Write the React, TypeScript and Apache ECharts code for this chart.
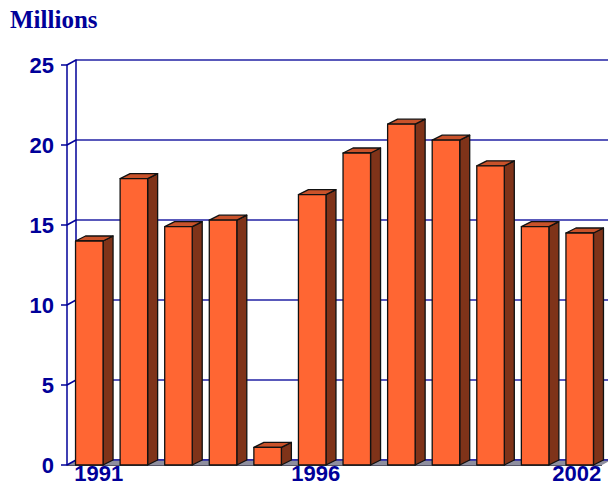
import React, { useEffect, useRef } from "react";
import * as echarts from "echarts";

// Annual totals, in millions
const years = ["1991", "1992", "1993", "1994", "1995", "1996", "1997", "1998", "1999", "2000", "2001", "2002"];
const values = [14.0, 17.9, 14.9, 15.3, 1.1, 16.9, 19.5, 21.3, 20.3, 18.7, 14.9, 14.5];
const labelledYears = ["1991", "1996", "2002"];
const yMin = 0;
const yMax = 25;
const yStep = 5;
const yTicks = [0, 5, 10, 15, 20, 25];

const NAVY = "#000099";
const GRID_BLUE = "#2222a4";
const FRONT = "#FF6633";
const SIDE = "#7F3319";
const TOP = "#C9522A";
const EDGE = "#111111";
const FLOOR = "#8e8e9e";

// depth of the back wall and of each bar
const WALL_DX = 9;
const WALL_DY = 5;
const BAR_DX = 10;
const BAR_DY = 5;

export default function App() {
  const ref = useRef<HTMLDivElement>(null);

  useEffect(() => {
    if (!ref.current) return;
    const chart = echarts.init(ref.current, null, { renderer: "svg" });

    const labelRich = {
      first: { padding: [0, 0, 0, 19] },
      mid: { padding: [0, 0, 0, 7] },
      last: { padding: [0, 6, 0, 0] },
    };

    const option: any = {
      animation: false,
      backgroundColor: "#ffffff",
      title: {
        text: "Millions",
        left: 5,
        top: 2,
        textStyle: {
          fontFamily: "Liberation Serif",
          fontWeight: "bold",
          fontSize: 25,
          color: NAVY,
        },
      },
      grid: [
        { left: 67, top: 65, width: 535, height: 400 },
        { left: 67 + WALL_DX, top: 65 - WALL_DY, width: 560, height: 400 },
      ],
      xAxis: [
        {
          type: "category",
          gridIndex: 0,
          data: years,
          z: 10,
          axisLine: { show: false },
          axisTick: { show: false },
          splitLine: { show: false },
          axisLabel: {
            interval: (idx: number, val: string) => labelledYears.includes(val),
            margin: -3,
            fontFamily: "Liberation Sans",
            fontWeight: "bold",
            fontSize: 22,
            color: NAVY,
            formatter: (val: string) => {
              const k = labelledYears.indexOf(val);
              const key = k === 0 ? "first" : k === labelledYears.length - 1 ? "last" : "mid";
              return `{${key}|${val}}`;
            },
            rich: labelRich,
          },
        },
        {
          type: "category",
          gridIndex: 1,
          data: years,
          show: false,
        },
      ],
      yAxis: [
        {
          type: "value",
          gridIndex: 0,
          min: yMin,
          max: yMax,
          interval: yStep,
          axisLine: { show: true, lineStyle: { color: NAVY, width: 1.5 } },
          axisTick: { show: true, length: 6, lineStyle: { color: NAVY, width: 1.5 } },
          splitLine: { show: false },
          axisLabel: {
            margin: 13,
            fontFamily: "Liberation Sans",
            fontWeight: "bold",
            fontSize: 22,
            color: NAVY,
          },
        },
        {
          type: "value",
          gridIndex: 1,
          min: yMin,
          max: yMax,
          interval: yStep,
          axisLine: { show: true, lineStyle: { color: NAVY, width: 1.5 } },
          axisTick: { show: false },
          axisLabel: { show: false },
          splitLine: { show: true, lineStyle: { color: GRID_BLUE, width: 1.5 } },
        },
      ],
      series: [
        {
          // floor of the box
          type: "custom",
          xAxisIndex: 0,
          yAxisIndex: 0,
          clip: false,
          z: 1,
          data: [[0, yMin]],
          renderItem: (params: any, api: any) => {
            const band = api.size([1, 0])[0];
            const p0 = api.coord([0, yMin]);
            const p1 = api.coord([years.length - 1, yMin]);
            const left = p0[0] - band / 2;
            const right = p1[0] + band / 2;
            const y = p0[1];
            return {
              type: "group",
              children: [
                {
                  type: "polygon",
                  shape: {
                    points: [
                      [left, y],
                      [right, y],
                      [right + WALL_DX, y - WALL_DY],
                      [left + WALL_DX, y - WALL_DY],
                    ],
                  },
                  style: { fill: FLOOR },
                },
                {
                  type: "line",
                  shape: { x1: left + WALL_DX, y1: y - WALL_DY, x2: right + WALL_DX + 20, y2: y - WALL_DY },
                  style: { stroke: GRID_BLUE, lineWidth: 1.5 },
                },
                {
                  type: "line",
                  shape: { x1: left, y1: y + 0.5, x2: right, y2: y + 0.5 },
                  style: { stroke: "#555566", lineWidth: 1 },
                },
              ],
            };
          },
        },
        {
          // slanted connectors from the front ticks to the back wall
          type: "custom",
          xAxisIndex: 0,
          yAxisIndex: 0,
          clip: false,
          z: 2,
          data: yTicks.map((v) => [0, v]),
          renderItem: (params: any, api: any) => {
            const band = api.size([1, 0])[0];
            const p = api.coord([0, api.value(1)]);
            const x = p[0] - band / 2;
            return {
              type: "line",
              shape: { x1: x, y1: p[1], x2: x + WALL_DX, y2: p[1] - WALL_DY },
              style: { stroke: NAVY, lineWidth: 1.5 },
            };
          },
        },
        {
          // 3D bars
          type: "custom",
          xAxisIndex: 0,
          yAxisIndex: 0,
          clip: false,
          z: 3,
          data: values.map((v, i) => [i, v]),
          renderItem: (params: any, api: any) => {
            const i = api.value(0);
            const v = api.value(1);
            const top = api.coord([i, v]);
            const base = api.coord([i, yMin]);
            const band = api.size([1, 0])[0];
            const w = band * 0.617;
            const x0 = top[0] - w / 2;
            const x1 = top[0] + w / 2;
            const yT = top[1];
            const yB = base[1];
            const edge = { stroke: EDGE, lineWidth: 1.3, lineJoin: "round" };
            return {
              type: "group",
              children: [
                {
                  type: "polygon",
                  shape: {
                    points: [
                      [x1, yT],
                      [x1 + BAR_DX, yT - BAR_DY],
                      [x1 + BAR_DX, yB - BAR_DY],
                      [x1, yB],
                    ],
                  },
                  style: { fill: SIDE, ...edge },
                },
                {
                  type: "polygon",
                  shape: {
                    points: [
                      [x0, yT],
                      [x0 + BAR_DX, yT - BAR_DY],
                      [x1 + BAR_DX, yT - BAR_DY],
                      [x1, yT],
                    ],
                  },
                  style: { fill: TOP, ...edge },
                },
                {
                  type: "rect",
                  shape: { x: x0, y: yT, width: w, height: yB - yT },
                  style: { fill: FRONT, ...edge },
                },
              ],
            };
          },
        },
      ],
    };

    chart.setOption(option);
    return () => chart.dispose();
  }, []);

  return (
    <div
      ref={ref}
      style={{ position: "fixed", left: 0, top: 0, width: 608, height: 487, background: "#fff" }}
    />
  );
}
